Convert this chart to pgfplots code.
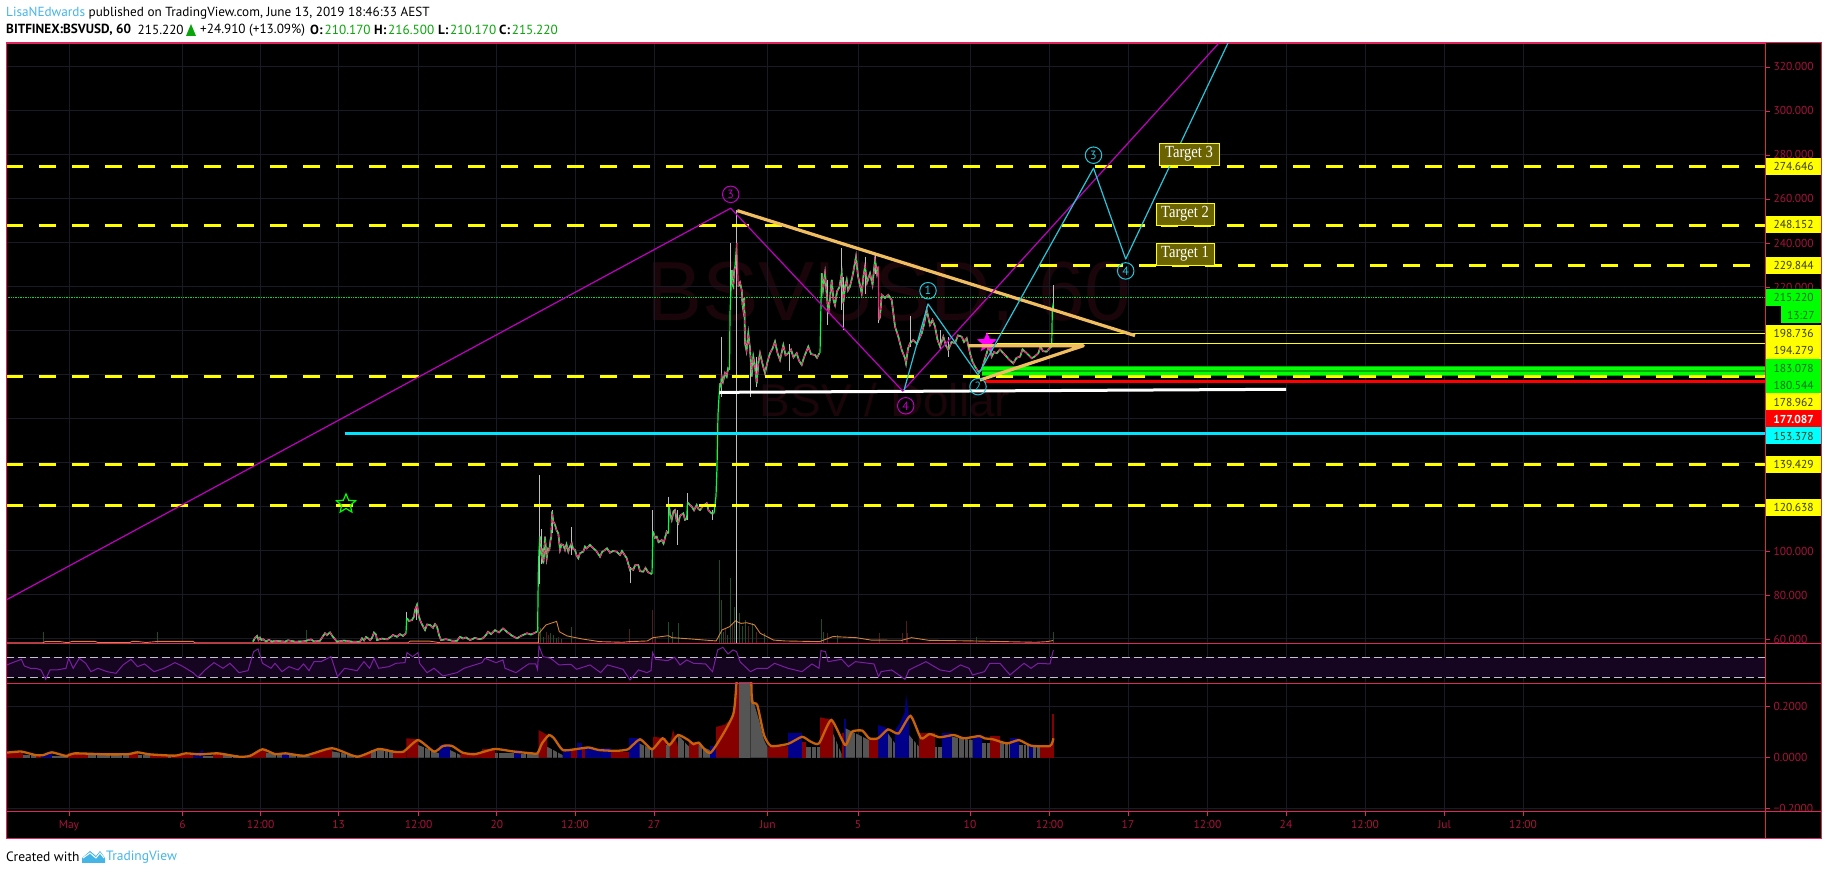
\documentclass[border=0pt]{standalone}
\usepackage{fontspec}
\usepackage{pgfplots}
\usepackage{pgfplotstable}
\pgfplotsset{compat=1.18}
\usetikzlibrary{shapes.geometric}
\setmainfont{PT Sans}
\newfontfamily\tserif[FakeStretch=0.86]{Liberation Serif}
\newfontfamily\wm{Liberation Sans}
\definecolor{frame}{HTML}{E0245E}
\definecolor{ticktxt}{HTML}{A8123F}
\definecolor{gridc}{HTML}{181B25}
\definecolor{dred}{HTML}{860000}
\definecolor{dblue}{HTML}{00008B}
\definecolor{dgray}{HTML}{555555}
\definecolor{ema}{HTML}{C8620A}
\definecolor{upg}{HTML}{00FF40}
\definecolor{dnp}{HTML}{F0206E}
\definecolor{wick}{HTML}{BEBEBE}
\definecolor{mag}{HTML}{C000C0}
\definecolor{cy}{HTML}{26C6DA}
\definecolor{tan}{HTML}{F0BE60}
\definecolor{yel}{HTML}{FFFF00}
\definecolor{rsic}{HTML}{7B1FA2}
\definecolor{band}{HTML}{150520}
\definecolor{olive}{HTML}{6B6300}
\definecolor{tvblue}{HTML}{45B5E6}
\definecolor{wmc}{HTML}{19050A}
\definecolor{volg}{HTML}{1E4D2B}
\definecolor{volr}{HTML}{4D1F1F}
\definecolor{hgreen}{HTML}{00FF00}
\definecolor{hcyan}{HTML}{00FFFF}
\definecolor{hmag}{HTML}{FF00FF}
\definecolor{hred}{HTML}{FF0000}
\definecolor{hdgreen}{HTML}{00AA00}
\definecolor{hlinec}{HTML}{00E5FF}
\definecolor{dashc}{HTML}{C8BED2}
\definecolor{tgreen}{HTML}{0AA50A}

\pgfplotstableread{
x y
253 58.8
255 60.5
257 61.4
258.5 59.6
260 60.6
261.5 59.5
263 59.9
266 58.9
269 59.6
272 58.8
275 59.2
285 58.8
288 59.4
295 58.8
303 58.9
307 59.3
311 59.8
314 58.9
320 59.2
322 60.6
325 62.6
327 61.7
330 63
332 61.6
334 60.4
337 58.8
344 59.3
352 58.8
360 58.8
362 60.3
364 59.3
366 60.9
368 60.3
370 59.4
372 60.5
374 62.9
376 62
377 59.5
382 60.2
387 59.8
390 60.7
393 61.8
397 61
400 62.2
403 61.4
406 62.6
nan nan
407 69.4
409 68.2
412 68.6
414 70.2
415 73.2
417 75.5
418.5 71
420 68.6
422 66.6
425 64.1
427 66.6
430 66.4
433 65.1
435 66.8
437 65.6
439 61.8
441 59.5
446 59.9
452 59.2
457 59.2
460 61
463 60.2
466 60.7
470 59.5
475 60.5
479 59.9
483 60.3
486 61.8
488 63.3
491 62.2
495 64
499 63
503 64.8
507 63.2
512 61.5
517 60.3
521 61.4
527 62.6
531 62
537 63.3
nan nan
540 106.5
541 99
541.7 97.4
542.5 101
543.3 94.4
544 98
545 106.5
546 100
546.7 96.7
548 101
549.3 100.5
550.5 105
551.3 106.5
552 117.9
553.3 113.3
555 112
556.5 109.5
558.3 108
560 100.5
561.5 103
563.3 102.7
565 100.5
566.5 103
568.3 99.7
570 102
571.7 103.5
573 101
575 100.5
576.5 98
578.3 96.7
580 99
583.3 99.7
585 102
586.7 101.2
590 102.8
593.3 101.2
596 100.2
600 97.4
602 99.5
605 100.5
607 101.2
610 99.2
613 100
616.7 99.7
620 98.2
622 100
626.7 96.7
630 91.4
631 92
633.3 91.4
635 93.5
638.3 93.6
640 90.8
643.3 90.6
645.5 92.3
648 90.4
651.7 89.5
nan nan
653 108.8
655 106
656.7 106.5
658.5 104
661.7 105
663.5 103.4
666.7 108.8
668.3 108
nan nan
669 120.2
670.5 116
671.7 114.1
673.5 118
675 118.6
676.5 114
678.3 112.6
680 116
683.3 117.1
685 114.2
686.7 114.8
nan nan
687.5 122
691.7 120.2
694 118.5
696.7 120.9
698.5 119
700 118.6
703 120.5
706.7 121.7
708.5 118.5
710 117.8
712 117
714 117.1
nan nan
720 176.2
721 175
721.7 179.3
723 177
725 180.8
726.7 179.3
728 183
729.3 182.3
nan nan
731.7 227.7
732.5 221
733.3 220.2
734 227
735 229.2
nan nan
738.3 220.2
740 222
741.7 218.6
742.5 212
743.3 209.6
744.2 215
745 194.4
746.5 191
748.3 198.9
750 192
751.7 179.3
753.3 188.3
755 184
756.7 176.2
758.5 186
760 189.9
762.5 185
765 180.8
767.5 186
770 189.9
772.5 192
775 195.2
777.5 190
780 186.8
783.3 193.6
785.5 189
788.3 189.9
791 191.5
793.5 188
796.7 189.9
799 186.5
801.7 184.6
804 188
808.3 192.9
811 189.5
815 189.1
817 187.8
819.3 189.9
nan nan
821.7 226.2
823 219
825 226.2
826.7 217
828.3 208
830 215
831.7 223.2
833.5 214
835 211.8
837 218
839.5 220
841.7 226.2
843.3 212.6
845 220
846.7 223.2
848 218.5
850 220.2
853 226
856 233.8
858 225
861.7 217.1
863.5 225
865 229.2
867 222
870 226.2
872.5 221
875 232.3
877 226
878.3 229.2
nan nan
879 205
880 206.5
881.7 216.4
885 215
888.3 216.4
891.7 214.1
895 202
898.3 197.4
901.7 191.4
905 187.6
906 185.3
908 192
910 194.4
913.3 195.9
917 194.2
921.7 198.9
924 203
926.7 209.5
930 202.7
932.5 205
935 202
937.5 196
940 192.9
943.3 197.4
945.8 193.5
948.3 191.4
951.5 195
955 194.4
958 198
961.7 197.4
964 195
966.7 196.7
970 189.9
972.5 186
975 183.8
978.3 181.5
981.7 182.3
984 186
986.7 189.9
989 193.4
991.7 188.3
994 190.4
996.7 189.9
1000 191.6
1005 189.1
1009 187
1013.3 185.3
1016.5 187.8
1020 188.3
1022.5 191.6
1025 190.6
1028.5 189.1
1031.7 187.6
1035 188.5
1038.3 189.9
1040.5 192.9
1043 190.8
1046.7 190.6
1049 192
1051.7 192.9
}\pricetab

\newcommand\blk[5]{\addplot[fill=#1,draw=none] coordinates {(#2,0)(#2,#3)(#4,#5)(#4,0)} --cycle;}

\pgfplotsset{
  panel/.style={
    scale only axis, width=1759pt, xmin=6, xmax=1765,
    unbounded coords=jump,
    axis line style={draw=frame,line width=0.8pt},
    grid=major, grid style={gridc,line width=1pt},
    xtick={69,182.5,260.7,338.6,418.6,496.8,575,654,767.7,858,970,1049.6,1128,1207.5,1286,1365,1444.5,1523},
    xticklabels={},
    tick style={draw=frame,line width=0.8pt},
    tick align=outside,
    major tick length=5pt,
    ticklabel style={font=\fontsize{11.5}{13}\selectfont,text=ticktxt},
    ytick pos=right,
    yticklabel pos=right,
    xtick pos=bottom,
    clip=true
  }
}

\begin{document}
\begin{tikzpicture}
\path[use as bounding box,fill=white] (0pt,0pt) rectangle (1828pt,875pt);
\fill[black] (6pt,36.3pt) rectangle (1821pt,832pt);
\node[font=\wm\fontsize{84}{84}\selectfont,text=wmc,anchor=center] at (889pt,578pt) {BSVUSD, 60};
\node[font=\wm\fontsize{46}{46}\selectfont,text=wmc,anchor=center] at (885pt,475pt) {BSV / Dollar};

% ---------- price panel
\begin{axis}[panel, at={(6pt,231.5pt)}, anchor=south west, height=600.5pt,
  ymin=57.95, ymax=330.9,
  ytick={60,80,...,320},
  yticklabels={60.000,80.000,100.000,120.000,140.000,160.000,180.000,200.000,220.000,240.000,260.000,280.000,300.000,320.000},
  x tick style={draw=none}]
% volume bars
\addplot[ycomb,volg,line width=1pt] coordinates {(43,63.3)(157,63.3)(306,64)(538,65.6)(540,64.8)(543,61)(550,62.6)(553,62)(556,60.5)(561,60)(571.6,65.6)(719,95.9)(721,77.7)(723,63)(727,62)(730,87.6)(734,74.7)(739,71.7)(742,66)(745,68.6)(752.6,67.1)(764,62.6)(821,68.9)(823,63.3)(837,61.8)(976.5,61)(1053,63)(678,67.1)(672,63.3)(668,67.6)};
\addplot[ycomb,volr,line width=1pt] coordinates {(629,64.5)(652,73.2)(655,61)(725,65)(732,67)(748,66)(756,63)(827,62.6)(879,62.9)(902,62.9)(906,68)(907.6,62.6)(546,63)(548,62)(558,61)};
% volume average
\addplot[ema!80!white,line width=0.9pt] coordinates {(6,58.3)(43,58.3)(45,58.8)(60,58.8)(68,58.3)(72,58.9)(95,58.9)(98,58.4)(130,58.4)(132,58.9)(137,58.9)(146,58.4)(158,58.9)(193,58.9)(195,58.3)(335,58.3)(408,58.3)(410,59)(430,59)(440,58.3)(537,58.3)
(538.3,58.2)(539,62.6)(546,66.4)(556.6,68)(559.3,63.3)(567,61.4)(582.3,60)(599.5,58.8)(622.5,58.5)(629.4,58.8)(647.3,59.1)(653,60.6)(668.4,61.5)(672,60.6)(691.3,60)(716.2,59.1)(722,64.1)(729.6,65.6)(735.4,68.2)(741,67.1)(746.8,67.4)(754.5,66.4)(760.2,62.6)(773.6,59.5)(785,59.1)(819.6,58.8)(833,61.1)(856,60.6)(871.2,59.5)(901.8,59.4)(911.4,60.6)(928.6,59.4)(974.5,59.1)(1035.8,58.5)(1047.3,58.8)(1053,59.3)};
% last price dotted
\addplot[upg!85!black,densely dotted,line width=0.7pt] coordinates {(6,215.22)(1765,215.22)};
% wicks
\addplot[wick,line width=1pt] coordinates {(406.7,72.4)(406.7,67.1)(nan,nan)(416.7,75.5)(416.7,68.6)(nan,nan)
(539,134.5)(539,85)(nan,nan)(541,110)(541,94)(nan,nan)(552,118.6)(552,108)(nan,nan)(571.7,111)(571.7,98.2)(nan,nan)(630,85.3)(630,92.9)(nan,nan)(652.7,118.6)(652.7,102)(nan,nan)(668,124.7)(668,115.6)(nan,nan)(677.3,118.6)(677.3,102.7)(nan,nan)(687,126.2)(687,114.1)(nan,nan)(712,114.1)(712,118.6)(nan,nan)
(721.7,197.4)(721.7,170.2)(nan,nan)(730.7,239.9)(730.7,217)(nan,nan)(736.7,255)(736.7,57)(nan,nan)(750.7,170)(750.7,191.4)(nan,nan)(756.7,174.7)(756.7,188.3)(nan,nan)(789,182)(789,194)(nan,nan)(827,202.7)(827,223)(nan,nan)(841.7,237.6)(841.7,209.6)(nan,nan)(843.3,200.5)(843.3,224.7)(nan,nan)(865,233.8)(865,217)(nan,nan)(875,234.5)(875,226)(nan,nan)(878.3,203.5)(878.3,229)(nan,nan)(910.7,206.8)(910.7,192.9)(nan,nan)(948,197.4)(948,188.3)(nan,nan)(940,200.4)(940,191.4)(nan,nan)(1053.3,220.9)(1053.3,209.5)};
% candles
\addplot[wick,line width=1.6pt] table {\pricetab};
\addplot[dnp,line width=1.1pt] table {\pricetab};
\addplot[upg,line width=1.1pt,dash pattern=on 3pt off 4pt] table {\pricetab};
% pumps and the drop
\addplot[upg,line width=1.2pt] coordinates {(406,62.6)(406.7,69.4)(nan,nan)(537.6,63.3)(538.3,89.8)(539,100)(540,106.5)(nan,nan)(652,89.5)(653,108.8)(nan,nan)(668.4,108)(669,120.2)(nan,nan)(686.7,114.8)(687.5,122)(nan,nan)(714,117.1)(716,125)(717,138)(718,162)(719,170)(720,176.2)(nan,nan)(729.5,182.3)(730,208)(731.7,227.7)(nan,nan)(735,229.2)(736.7,239.9)(nan,nan)(820,189.9)(821,212.6)(821.7,226.2)(nan,nan)(1051.7,192.9)(1052.3,209.5)(1053.3,212.6)};
\addplot[dnp,line width=1.2pt] coordinates {(736.7,239.9)(738.3,220.2)(nan,nan)(878.3,229.2)(879,205)};
% horizontal levels
\addplot[white,line width=3pt] coordinates {(719.3,172.1)(1286,173.5)};
\addplot[hlinec,line width=3.6pt] coordinates {(345,153.378)(1765,153.378)};
\addplot[hdgreen,line width=4.6pt] coordinates {(981.7,183.078)(1765,183.078)};
\addplot[hdgreen,line width=4.6pt] coordinates {(981.7,180.544)(1765,180.544)};
\addplot[hgreen,line width=3.2pt] coordinates {(981.7,183.078)(1765,183.078)};
\addplot[hgreen,line width=3.2pt] coordinates {(981.7,180.544)(1765,180.544)};
\addplot[hred,line width=3.4pt] coordinates {(985,177.087)(1765,177.087)};
\addplot[yel,line width=1.2pt] coordinates {(986,198.736)(1765,198.736)};
\addplot[yel,line width=1.2pt] coordinates {(997,194.279)(1765,194.279)};
\addplot[yel,line width=3pt,dash pattern=on 17pt off 16pt] coordinates {(6,274.646)(1765,274.646)};
\addplot[yel,line width=3pt,dash pattern=on 17pt off 16pt] coordinates {(6,248.152)(1765,248.152)};
\addplot[yel,line width=3pt,dash pattern=on 17pt off 16pt] coordinates {(941,229.844)(1765,229.844)};
\addplot[yel,line width=3pt,dash pattern=on 17pt off 16pt] coordinates {(6,179.1)(1765,179.1)};
\addplot[yel,line width=3pt,dash pattern=on 17pt off 16pt] coordinates {(6,139.429)(1765,139.429)};
\addplot[yel,line width=3pt,dash pattern=on 17pt off 16pt] coordinates {(6,120.638)(1765,120.638)};
% the magenta star lies under the trend lines
\addplot[only marks,mark=star,mark size=0pt,draw=none] coordinates {(987,194.7)};
\node[star,star points=5,star point ratio=2.2,fill=hmag,minimum size=21pt,inner sep=0pt] at (axis cs:987,194.7) {};
\end{axis}

% trend lines and waves go above that star
\begin{axis}[scale only axis,width=1759pt,height=600.5pt,at={(6pt,231.5pt)},anchor=south west,xmin=6,xmax=1765,ymin=57.95,ymax=330.9,hide axis,clip=true]
\addplot[tan,line width=3.2pt,line join=round] coordinates {(737.3,254.7)(1135,197.9)};
\addplot[tan,line width=3.2pt,line join=round] coordinates {(968.3,193.3)(1083.3,193.3)(980,177.7)};
\addplot[mag,line width=1.2pt,line join=round] coordinates {(6,77.7)(730.7,255.8)(902.7,172.7)(1219,330.9)};
\addplot[cy,line width=1.2pt,line join=round] coordinates {(904,173)(928,212.3)(978,180)(1093.5,274)(1125.7,232.7)(1228,330.9)};
\node[star,star points=5,star point ratio=2.2,draw=hgreen,line width=1.2pt,minimum size=20pt,inner sep=0pt] at (axis cs:346,121.4) {};
\foreach \xx/\yy/\cc/\tt in {730.7/262.1/mag/3,905.7/166/mag/4,928/218.3/cy/1,978/174.7/cy/2,1093.5/279.9/cy/3,1125.7/227.3/cy/4}{
  \edef\doit{\noexpand\node[circle,draw=\cc,line width=1pt,minimum size=16.5pt,inner sep=0pt,text=\cc,font=\noexpand\fontsize{12}{12}\noexpand\selectfont] at (axis cs:\xx,\yy) {\tt};}\doit
}
\end{axis}

% ---------- RSI panel
\begin{axis}[panel, at={(6pt,192pt)}, anchor=south west, height=39.5pt,
  ymin=18.6, ymax=97.6, ytick=\empty, xtick pos=bottom, x tick style={draw=none}, yticklabels={}]
\addplot[fill=band,draw=none] coordinates {(6,30)(1765,30)(1765,70)(6,70)} --cycle;
\addplot[dashc,line width=0.9pt,dash pattern=on 8pt off 4pt] coordinates {(6,70)(1765,70)};
\addplot[dashc,line width=0.9pt,dash pattern=on 8pt off 4pt] coordinates {(6,30)(1765,30)};
\addplot[rsic,line width=1pt] coordinates {(7,54.7)(12.5,59.3)(17.9,63.3)(21.4,66)(24.3,52.7)(30.4,48)(35.7,48)(41,44.7)(45.7,26)(50,44.7)(57,44.7)(66,48)(68.6,68)(73.2,48)(79.3,68)(85.7,58)(91,41.3)(98,48)(107,41.3)(116,38)(123,54.7)(131,66)(137.5,51.3)(144.6,56.7)(154,41.3)(164,48)(175,59.3)(182,52.7)(193,39.3)(198,30)(205,44.7)(214,59.3)(223,48)(230,58)(239,39.3)(248,43.3)(253.6,81.3)(258,86.7)(262.5,58)(271,48)(275,58)(282,41.3)(289,51.3)(298,44.7)(303.6,56.7)(309,43.3)(314,61.3)(321,61.3)(331,71.3)(337.5,31.3)(344.6,48)(357,43.3)(364,61.3)(369.6,48)(374,68)(378.6,48)(389,51.3)(396,58)(405,59.3)(407,79.3)(412.5,71.3)(418,79.3)(419.6,58)(427,39.3)(434,48)(443,32.7)(457,39.3)(464,48)(482,59.3)(485,68)(496,59.3)(503,64.7)(505,48)(516,39.3)(528.6,56.7)(535.7,56.7)(537.5,46)(539,92.7)(543,71.3)(550.7,68)(559,54.7)(571,56)(576.5,46)(590,54.7)(600.6,39.3)(607.5,54.7)(616,50)(623,46)(630,24.7)(638.5,44.7)(647,39.3)(651,43.3)(652.6,79.3)(655.7,66)(667.7,63.3)(674.6,70)(680,54.7)(686.7,64.7)(693.6,58)(705.6,56.7)(712.5,41.3)(717.7,84.7)(722.8,90)(728,76.7)(733,84.7)(736.6,81.3)(740,61.3)(750.4,41.3)(757.3,48)(767.6,48)(774.5,58)(788,48)(802,41.3)(812,56.7)(819,48)(821,83.3)(825.5,81.3)(828,61.3)(841.6,66)(848.5,51.3)(855.4,61.3)(874,56.7)(878.5,31.3)(881,41.3)(891.6,44.7)(905,26)(909,44.7)(926,61.3)(940,44.7)(950,41.3)(960.4,54.7)(969,48)(972.5,34.7)(984.5,41.3)(989.7,58)(1000,58)(1010,34.7)(1024,58)(1031,48)(1038,58)(1050,56.7)(1051.7,71.3)(1053.4,84.7)};
\end{axis}

% ---------- lower panel
\begin{axis}[panel, at={(6pt,64pt)}, anchor=south west, height=128pt,
  ymin=-0.209, ymax=0.2929,
  ytick={-0.2,0,0.2}, yticklabels={−0.2000,0.0000,0.2000},
  xticklabels={May,6,12:00,13,12:00,20,12:00,27,Jun,5,10,12:00,17,12:00,24,12:00,Jul,12:00},
  xticklabel style={yshift=-1pt}]
\blk{dred}{7}{.02}{23}{.02}
\blk{dgray}{23}{.01}{36}{.01}
\blk{dred}{36}{.008}{41}{.008}
\blk{dblue}{41}{.01}{52}{.018}
\blk{dgray}{52}{.005}{68}{.005}
\blk{dred}{68}{.018}{87.5}{.018}
\blk{dgray}{87.5}{.01}{128.6}{.01}
\blk{dred}{128.6}{.017}{137.5}{.017}
\blk{dgray}{137.5}{.01}{150}{.01}
\blk{dred}{150}{.015}{168}{.015}
\blk{dgray}{168}{.008}{171}{.008}
\blk{dred}{171}{.01}{193}{.01}
\blk{dblue}{193}{.01}{203}{.03}
\blk{dgray}{203}{.008}{212.5}{.008}
\blk{dred}{212.5}{.017}{223}{.017}
\blk{dgray}{223}{.01}{237.5}{.01}
\blk{dblue}{237.5}{.008}{248}{.008}
\blk{dred}{248}{.01}{266}{.03}
\blk{dgray}{266}{.02}{282}{.01}
\blk{dblue}{282}{.017}{289}{.017}
\blk{dgray}{289}{.012}{310.7}{.005}
\blk{dred}{310.7}{.015}{332}{.033}
\blk{dgray}{332}{.025}{360.7}{.005}
\blk{dred}{360.7}{.01}{371.4}{.02}
\blk{dgray}{371.4}{.03}{393}{.03}
\blk{dred}{393}{.024}{406.4}{.024}
\blk{dred}{406.4}{.076}{418}{.072}
\blk{dgray}{418}{.05}{439}{.017}
\blk{dblue}{439}{.05}{450}{.055}
\blk{dgray}{450}{.03}{460.7}{.01}
\blk{dred}{460.7}{.017}{482}{.02}
\blk{dred}{482}{.033}{494.6}{.033}
\blk{dgray}{494.6}{.017}{514}{.017}
\blk{dblue}{514}{.03}{521.4}{.03}
\blk{dgray}{521.4}{.015}{538.6}{.015}
\blk{dred}{538.6}{.108}{547.2}{.089}
\blk{dgray}{547.2}{.043}{562.7}{.01}
\blk{dblue}{562.7}{.033}{570.6}{.033}
\blk{dred}{570.6}{.03}{576.5}{.03}
\blk{dblue}{576.5}{.056}{582}{.056}
\blk{dred}{582}{.04}{585}{.04}
\blk{dblue}{585}{.043}{600.6}{.03}
\blk{dblue}{600.6}{.037}{611}{.037}
\blk{dred}{611}{.024}{628.8}{.024}
\blk{dblue}{628.8}{.076}{639.5}{.076}
\blk{dgray}{639.5}{.056}{653}{.03}
\blk{dred}{653}{.082}{666}{.076}
\blk{dgray}{666}{.05}{669.5}{.05}
\blk{dred}{669.5}{.04}{673}{.11}
\blk{dred}{673}{.11}{678}{.043}
\blk{dgray}{678}{.089}{689}{.043}
\blk{dred}{689}{.063}{698.7}{.063}
\blk{dgray}{698.7}{.05}{709.8}{.03}
\blk{dblue}{709.8}{.046}{716}{.046}
\blk{dred}{716}{.12}{725}{.13}
\blk{dred}{725}{.13}{730}{.148}
\blk{dred}{730}{.148}{736.6}{.2}
\blk{dred}{733}{.19}{739}{.3}
\blk{dgray}{739}{.3}{750.4}{.3}
\blk{dgray}{750.4}{.3}{754}{.213}
\blk{dgray}{754}{.213}{759}{.148}
\blk{dgray}{759}{.148}{764}{.069}
\blk{dgray}{764}{.069}{767.6}{.04}
\blk{dred}{767.6}{.043}{788.3}{.045}
\blk{dblue}{788.3}{.095}{802}{.095}
\blk{dred}{802}{.06}{805.5}{.06}
\blk{dgray}{805.5}{.04}{820}{.04}
\blk{dred}{820}{.158}{833}{.148}
\blk{dgray}{833}{.095}{841.6}{.015}
\blk{dred}{841.6}{.095}{844}{.095}
\blk{dblue}{844}{.15}{845.5}{.15}
\blk{dgray}{845.5}{.115}{869.2}{.069}
\blk{dred}{869.2}{.076}{878}{.076}
\blk{dblue}{878}{.128}{888}{.115}
\blk{dgray}{888}{.095}{895}{.056}
\blk{dblue}{895}{.108}{900}{.135}
\blk{dblue}{900}{.135}{905}{.18}
\blk{dblue}{905}{.18}{906}{.246}
\blk{dblue}{906}{.246}{909}{.161}
\blk{dgray}{909}{.089}{919}{.043}
\blk{dred}{919}{.095}{934.6}{.095}
\blk{dgray}{934.6}{.043}{941.5}{.043}
\blk{dblue}{941.5}{.095}{952}{.095}
\blk{dgray}{952}{.082}{972.5}{.069}
\blk{dblue}{972.5}{.082}{982}{.082}
\blk{dgray}{982}{.056}{989.7}{.056}
\blk{dred}{989.7}{.085}{1000}{.085}
\blk{dgray}{1000}{.056}{1010.4}{.056}
\blk{dblue}{1010.4}{.076}{1019}{.076}
\blk{dgray}{1019}{.05}{1029.3}{.05}
\blk{dblue}{1029.3}{.04}{1032.7}{.04}
\blk{dgray}{1032.7}{.043}{1039.6}{.043}
\blk{dred}{1039.6}{.043}{1051.7}{.043}
\blk{dred}{1051.7}{.171}{1054}{.171}
% dark gaps between the bars of the histogram
\addplot[ycomb,black,line width=0.7pt] coordinates {(30,.03)(96,.03)(110,.03)(122,.03)(142,.03)(232,.03)(276,.03)(296,.03)(340,.04)(346,.04)(354,.04)(376,.05)(384,.05)(388,.05)(424,.06)(430,.06)(456,.05)(498,.05)(526,.05)(552,.06)(557,.06)(644,.06)(650,.06)(684,.09)(702,.06)(811,.06)(816,.06)(835,.1)(838,.1)(855,.12)(862,.12)(892,.1)(913,.1)(916,.1)(937,.1)(958,.1)(964,.1)(968,.1)(986,.1)(1004,.1)(1008,.1)(1023,.1)(1026,.1)(1036,.1)};
\addplot[ema,line width=2.3pt,smooth,tension=0.35] coordinates {(7,.02)(21.4,.024)(35.7,.01)(43,.01)(52,.021)(66,.007)(75,.017)(107,.013)(128.6,.014)(137.5,.021)(150,.013)(175,.008)(186,.017)(200,.013)(218,.017)(239,.004)(250,.007)(262.5,.033)(275,.014)(285.7,.017)(305,.008)(332,.037)(357,.004)(378.6,.034)(393,.024)(403.6,.024)(418,.069)(434,.024)(443,.046)(452,.046)(462.5,.02)(475,.014)(494.6,.034)(514,.024)(532,.017)(537.5,.017)(542,.056)(549,.089)(554,.076)(562.7,.03)(574.8,.033)(588.5,.04)(599,.03)(616,.027)(628,.033)(640,.072)(652,.033)(662.6,.076)(669.5,.05)(678,.089)(688.4,.069)(693.6,.053)(698.7,.059)(710.8,.02)(733,.167)(737.6,.32)(750.4,.32)(752,.22)(757.3,.206)(764,.089)(771,.046)(788,.054)(802,.082)(810.6,.063)(819,.056)(831.3,.148)(845,.05)(852,.102)(862.3,.106)(869.2,.076)(878,.076)(888,.111)(898.5,.095)(910.5,.164)(921,.076)(929.5,.093)(939.8,.08)(953.6,.089)(964,.076)(979.4,.085)(984.5,.076)(993,.072)(1007,.056)(1019,.069)(1031,.047)(1050,.046)(1053.4,.076)};
\end{axis}

% ---------- overlay in pixels of the reference
\begin{scope}[x=1pt,y=-1pt,shift={(0pt,875pt)}]
\fill[black] (1766,644.2) rectangle (1820.3,650);
\fill[black] (1766,811.6) rectangle (1820.3,820);
\draw[frame,line width=1pt] (6,43) rectangle (1821,838.5);
\draw[frame,line width=0.9pt] (6,643.5)--(1821,643.5) (6,683)--(1821,683) (6,811)--(1821,811) (1765,43)--(1765,838.5);
\newcommand\lab[4]{\node[fill=#1,text=#2,minimum width=55.5pt,minimum height=17pt,anchor=west,inner sep=0pt,font=\fontsize{11.5}{13}\selectfont] at (1765.6,#3) {#4};}
\definecolor{ytxt}{HTML}{3A3A10}
\definecolor{gtxt}{HTML}{0A6B20}
\lab{yel}{ytxt}{166.5}{274.646}
\lab{yel}{ytxt}{224.7}{248.152}
\lab{yel}{ytxt}{265.4}{229.844}
\lab{hgreen}{gtxt}{297.5}{215.220}
\node[fill=hgreen,text=gtxt,minimum width=40pt,minimum height=17pt,anchor=east,inner sep=0pt,font=\fontsize{11.5}{13}\selectfont] at (1821,315) {13:27};
\lab{yel}{ytxt}{333.5}{198.736}
\lab{yel}{ytxt}{350.5}{194.279}
\lab{hgreen}{gtxt}{368}{183.078}
\lab{hgreen}{gtxt}{385}{180.544}
\lab{yel}{ytxt}{402}{178.962}
\node[fill=hred,text=white,minimum width=55.5pt,minimum height=17pt,anchor=west,inner sep=0pt,font=\bfseries\fontsize{11.5}{13}\selectfont] at (1765.6,419) {177.087};
\lab{hcyan}{ytxt}{436}{153.378}
\lab{yel}{ytxt}{464.5}{139.429}
\lab{yel}{ytxt}{507.5}{120.638}
\newcommand\tgt[3]{\node[fill=olive,draw=yel,line width=0.8pt,text=white,minimum width=#3,minimum height=22pt,inner sep=0pt,font=\tserif\fontsize{17}{17}\selectfont] at (#1) {#2};}
\tgt{1189,154}{Target 3}{60pt}
\tgt{1185,214}{Target 2}{58pt}
\tgt{1185,254}{Target 1}{58pt}
% header
\node[anchor=west,inner sep=0pt,font=\fontsize{13.2}{15}\selectfont] at (6,13) {\textcolor{tvblue}{LisaNEdwards} published on TradingView.com, June 13, 2019 18:46:33 AEST};
\newcommand\hd[2]{\node[anchor=west,inner sep=0pt,font=\fontsize{13.2}{15}\selectfont] at (#1,30) {#2};}
\hd{6}{\textbf{BITFINEX:BSVUSD, 60}}
\hd{137.5}{215.220}
\fill[tgreen] (186,36)--(196,36)--(191,24)--cycle;
\hd{200}{+24.910 (+13.09\%)}
\hd{310}{\textbf{O:}}
\hd{324.5}{\textcolor{tgreen}{210.170}}
\hd{374}{\textbf{H:}}
\hd{388}{\textcolor{tgreen}{216.500}}
\hd{438}{\textbf{L:}}
\hd{450}{\textcolor{tgreen}{210.170}}
\hd{499}{\textbf{C:}}
\hd{511.6}{\textcolor{tgreen}{215.220}}
% footer
\node[anchor=west,inner sep=0pt,font=\fontsize{13.5}{16}\selectfont] at (6,857) {Created with};
\fill[tvblue] (82,863)--(82,858)--(90,851)--(96,856)--(100,851)--(105,858)--(105,863)--cycle;
\draw[white,line width=1pt] (83,858)--(90,853)--(96,858)--(100,853)--(104,858);
\node[anchor=west,inner sep=0pt,text=tvblue,font=\fontsize{13.5}{16}\selectfont] at (106,857) {TradingView};
\end{scope}
\end{tikzpicture}
\end{document}
